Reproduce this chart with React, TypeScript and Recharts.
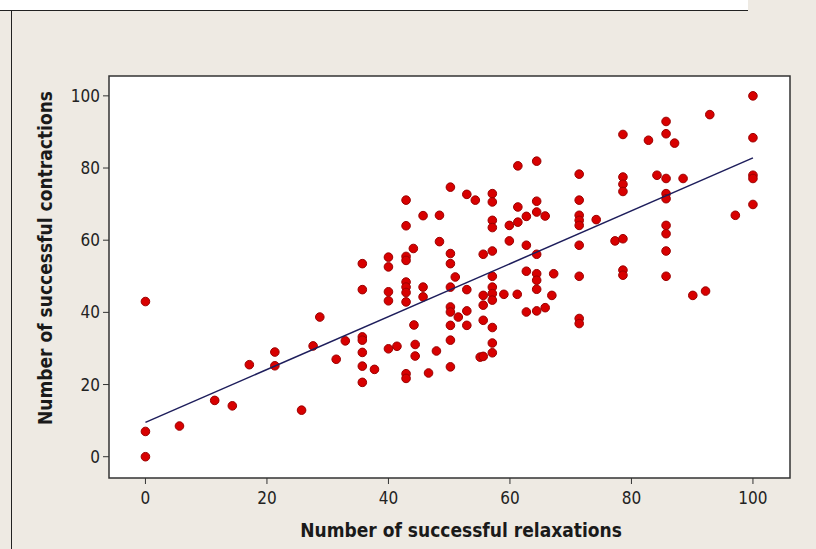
import { ScatterChart, Scatter, XAxis, YAxis, CartesianGrid, ReferenceArea } from "recharts";

// relaxations (x) and contractions (y), paired by index
const relaxations = [
  0, 0, 0, 5.6, 11.4, 14.3, 17.1, 21.3, 21.3, 25.7, 27.6, 28.7, 31.4, 32.9,
  35.7, 35.7, 35.7, 35.7, 35.7, 35.7, 35.7, 37.7,
  40, 40, 40, 40, 40, 41.4,
  42.9, 42.9, 42.9, 42.9, 42.9, 42.9, 42.9, 42.9, 42.9, 42.9,
  44.1, 44.2, 44.4, 44.4, 45.7, 45.7, 45.7, 46.6, 47.9, 48.4, 48.4,
  50.2, 50.2, 50.2, 50.2, 50.2, 50.2, 50.2, 50.2, 50.2, 51, 51.5,
  52.9, 52.9, 52.9, 52.9, 54.3, 55.1,
  55.6, 55.6, 55.6, 55.6, 55.6,
  57.1, 57.1, 57.1, 57.1, 57.1, 57.1, 57.1, 57.1, 57.1, 57.1, 57.1, 57.1,
  59, 59.9, 59.9, 61.2, 61.3, 61.3, 61.3,
  62.7, 62.7, 62.7, 62.7,
  64.4, 64.4, 64.4, 64.4, 64.4, 64.4, 64.4, 64.4,
  65.8, 65.8, 66.9, 67.2,
  71.4, 71.4, 71.4, 71.4, 71.4, 71.4, 71.4, 71.4, 71.4,
  74.2, 77.3,
  78.6, 78.6, 78.6, 78.6, 78.6, 78.6, 78.6,
  82.8, 84.2,
  85.7, 85.7, 85.7, 85.7, 85.7, 85.7, 85.7, 85.7, 85.7,
  87.1, 88.5, 90.1, 92.2, 92.9, 97.1,
  100, 100, 100, 100, 100,
];

const contractions = [
  43, 7, 0, 8.5, 15.6, 14.1, 25.5, 29, 25.2, 12.9, 30.7, 38.7, 27, 32.1,
  53.5, 46.3, 33.2, 32.3, 28.9, 25.1, 20.6, 24.2,
  55.3, 52.6, 45.7, 43.2, 29.9, 30.6,
  71.1, 64, 55.5, 54.4, 48.4, 47, 45.5, 42.9, 23, 21.7,
  57.7, 36.5, 31.1, 27.9, 66.8, 47, 44.3, 23.2, 29.3, 66.9, 59.6,
  74.7, 56.3, 53.5, 47, 41.5, 40.1, 36.4, 32.3, 24.9, 49.8, 38.7,
  72.7, 46.3, 40.4, 36.4, 71.1, 27.6,
  56.1, 44.7, 42, 37.8, 27.8,
  72.9, 70.6, 65.5, 63.5, 57, 50, 47, 45.2, 43.4, 35.8, 31.5, 28.8,
  45, 64.1, 59.8, 45, 80.6, 69.2, 65,
  66.6, 58.6, 51.4, 40.1,
  81.9, 70.8, 67.8, 56.1, 50.7, 48.9, 46.4, 40.4,
  66.7, 41.3, 44.7, 50.7,
  78.3, 71.1, 66.9, 65.5, 64.1, 58.6, 50, 38.3, 36.9,
  65.7, 59.8,
  89.3, 77.5, 75.5, 73.5, 60.4, 51.7, 50.3,
  87.7, 78,
  92.9, 89.5, 77.1, 72.9, 71.5, 64.1, 61.8, 57, 50,
  86.9, 77.1, 44.7, 45.9, 94.8, 66.9,
  100, 88.4, 78, 77.1, 69.9,
];

// fitted line: ends at x = 0 and x = 100
const fitX = [0, 100];
const fitY = [9.5, 82.8];

const ticks = [0, 20, 40, 60, 80, 100];

const points = relaxations.map((x, i) => ({ x, y: contractions[i] }));
const fitLine = fitX.map((x, i) => ({ x, y: fitY[i] }));

const font = "'DejaVu Sans Condensed', 'DejaVu Sans', sans-serif";
const tickFont = { fontFamily: font, fontSize: 17, fill: "#222" };
const titleStyle: React.CSSProperties = {
  position: "absolute",
  fontFamily: font,
  fontWeight: "bold",
  fontSize: 19,
  color: "#1a1a1a",
  whiteSpace: "nowrap",
};

const Dot = (p: any) => (
  <circle cx={p.cx} cy={p.cy} r={4.3} fill="#d80000" stroke="#9a0000" strokeWidth={1} />
);

export default function App() {
  return (
    <div style={{ position: "absolute", left: 0, top: 0, width: 816, height: 549, background: "#eeeae3", overflow: "hidden" }}>
      {/* scanned page edges */}
      <div style={{ position: "absolute", left: 0, top: 0, width: 748, height: 10, background: "#fff", borderBottom: "1.5px solid #222" }} />
      <div style={{ position: "absolute", left: 11, top: 10, width: 0, height: 539, borderLeft: "1.5px solid #222" }} />

      <div style={{ position: "absolute", left: 0, top: 0 }}>
        <ScatterChart width={816} height={549} margin={{ top: 76, right: 26, bottom: 0, left: 0 }}>
          <CartesianGrid horizontal={false} vertical={false} fill="#fff" />
          <XAxis
            type="number"
            dataKey="x"
            domain={[-6, 106.1]}
            ticks={ticks}
            height={71}
            axisLine={false}
            tickSize={6}
            tickMargin={8}
            tickLine={{ stroke: "#333" }}
            tick={tickFont}
            allowDataOverflow
          />
          <YAxis
            type="number"
            dataKey="y"
            domain={[-5.9, 105.5]}
            ticks={ticks}
            width={109}
            axisLine={false}
            tickSize={6}
            tickMargin={3}
            tickLine={{ stroke: "#333" }}
            tick={tickFont}
            allowDataOverflow
          />
          <ReferenceArea x1={-6} x2={106.1} y1={-5.9} y2={105.5} fill="#fff" fillOpacity={0} stroke="#333" strokeWidth={1.5} />
          <Scatter data={points} shape={Dot} isAnimationActive={false} />
          <Scatter
            data={fitLine}
            line={{ stroke: "#1e1e5c", strokeWidth: 1.5 }}
            shape={() => <g />}
            isAnimationActive={false}
          />
        </ScatterChart>
      </div>

      <div style={{ ...titleStyle, left: 461, top: 530, transform: "translate(-50%, -50%)" }}>
        Number of successful relaxations
      </div>
      <div style={{ ...titleStyle, left: 45, top: 258, transform: "translate(-50%, -50%) rotate(-90deg)" }}>
        Number of successful contractions
      </div>
    </div>
  );
}
